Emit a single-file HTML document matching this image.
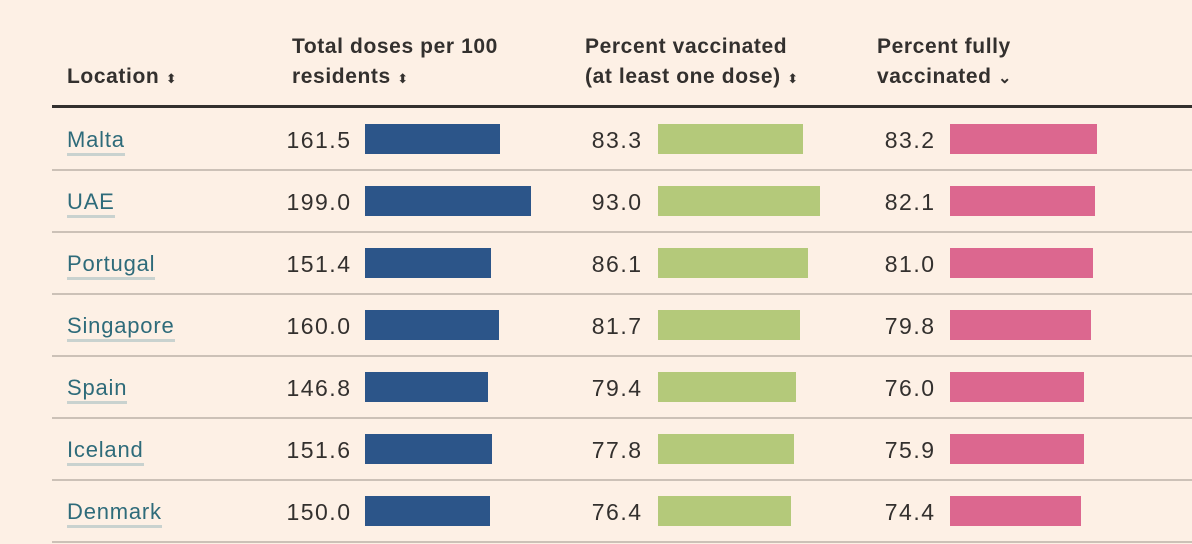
<!DOCTYPE html>
<html><head><meta charset="utf-8"><style>
body{margin:0;width:1192px;height:544px;background:#fdf0e5;font-family:"Liberation Sans",sans-serif;overflow:hidden;position:relative;color:#33302e}
.h{position:absolute;font-weight:bold;font-size:21px;line-height:30px;color:#33302e;letter-spacing:0.6px}
.s{font-size:13px;font-weight:normal}
#hline{position:absolute;left:52px;top:105px;width:1140px;height:3px;background:#33302e}
.sep{position:absolute;left:52px;width:1140px;height:2px;background:#ccc1b7}
.loc{position:absolute;left:67px;font-size:22px;color:#2e6b7a;border-bottom:3px solid #c9d2cf;line-height:26px;letter-spacing:0.8px}
.num{position:absolute;font-size:23px;text-align:right;width:100px;line-height:26px;letter-spacing:1.5px}
.bar{position:absolute;height:30px}
</style></head><body>
<div class="h" style="left:67px;top:62px">Location <span class="s">⬍</span></div>
<div class="h" style="left:292px;top:32px">Total doses per 100<br>residents <span class="s">⬍</span></div>
<div class="h" style="left:585px;top:32px">Percent vaccinated<br>(at least one dose) <span class="s">⬍</span></div>
<div class="h" style="left:877px;top:32px">Percent fully<br>vaccinated <span style="font-size:16px">⌄</span></div>
<div id="hline"></div>
<div id="rows"></div>
<script>
const locations=["Malta","UAE","Portugal","Singapore","Spain","Iceland","Denmark"];
const doses=[161.5,199.0,151.4,160.0,146.8,151.6,150.0];
const vacc=[83.3,93.0,86.1,81.7,79.4,77.8,76.4];
const fully=[83.2,82.1,81.0,79.8,76.0,75.9,74.4];
const cols=[
 {d:doses,x0:365,k:0.835,nr:350,c:"#2c5589",n:"doses"},
 {d:vacc,x0:658,k:1.742,nr:641,c:"#b4c97a",n:"vaccinated"},
 {d:fully,x0:950,k:1.765,nr:934,c:"#dc678f",n:"fully"}];
const R=document.getElementById('rows');
locations.forEach((l,i)=>{
 const top=108+i*62;
 const a=document.createElement('div');a.className='loc';
 
 
 a.style.top=(top+19)+'px';a.textContent=l;R.appendChild(a);
 cols.forEach(c=>{
  const n=document.createElement('div');n.className='num';
  
  
  n.style.left=(c.nr-100+1.5)+'px';n.style.top=(top+19)+'px';n.textContent=c.d[i].toFixed(1);R.appendChild(n);
  const b=document.createElement('div');b.className='bar';
  
  
  b.style.left=c.x0+'px';b.style.top=(top+16)+'px';b.style.width=(c.d[i]*c.k)+'px';b.style.background=c.c;R.appendChild(b);
 });
 const s=document.createElement('div');s.className='sep';
 
 
 s.style.top=(top+61)+'px';R.appendChild(s);
});
</script>
</body></html>
